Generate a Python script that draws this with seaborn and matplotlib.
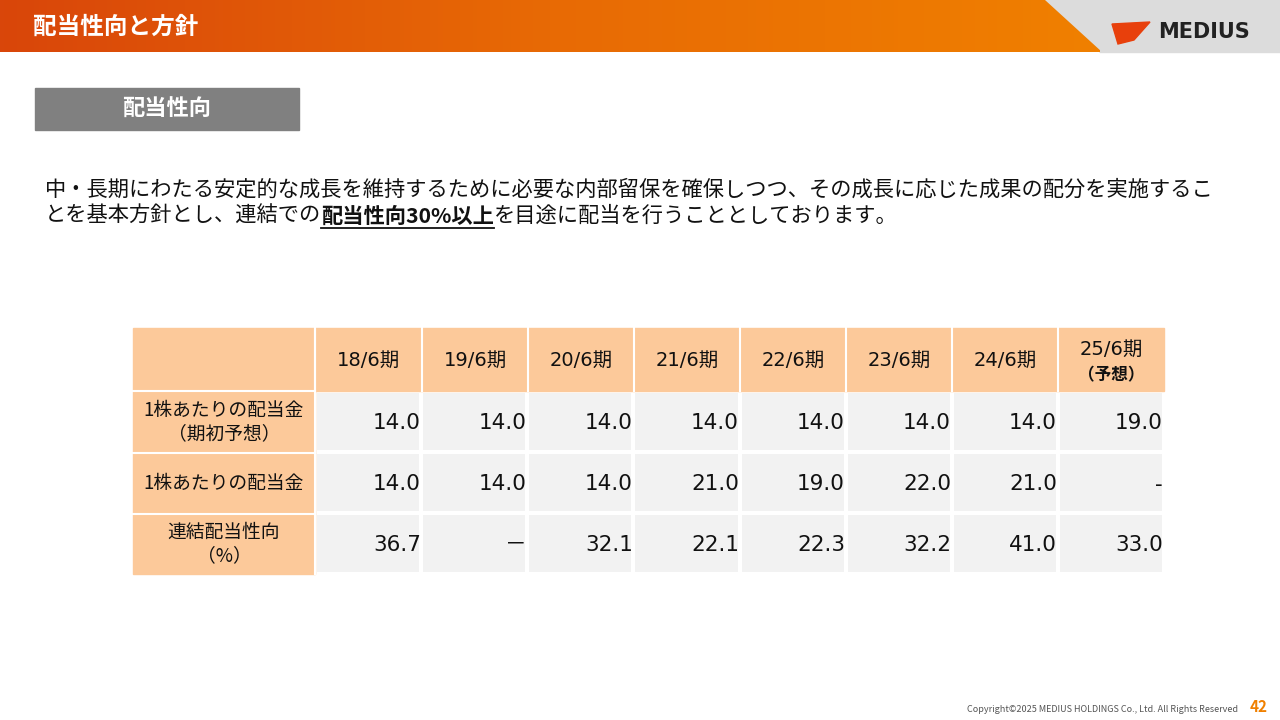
import numpy as np
import pandas as pd
import matplotlib.pyplot as plt
import seaborn as sns
from matplotlib.patches import Rectangle, Polygon
from matplotlib.colors import LinearSegmentedColormap

plt.rcParams["font.family"] = "Noto Sans CJK JP"
MIX = ["DejaVu Sans", "Noto Sans CJK JP"]

# Data
periods = ["18/6期", "19/6期", "20/6期", "21/6期", "22/6期", "23/6期", "24/6期", "25/6期"]
row_labels = ["1株あたりの配当金\n（期初予想）", "1株あたりの配当金", "連結配当性向\n（%）"]
dps_forecast = ["14.0", "14.0", "14.0", "14.0", "14.0", "14.0", "14.0", "19.0"]
dps_actual = ["14.0", "14.0", "14.0", "21.0", "19.0", "22.0", "21.0", "-"]
payout_ratio = ["36.7", "－", "32.1", "22.1", "22.3", "32.2", "41.0", "33.0"]

W, H = 1280, 720
fig = plt.figure(figsize=(12.8, 7.2), dpi=100, facecolor="white")

col_edges = [133, 315, 422, 528, 634, 740, 846, 952, 1058, 1164]
row_edges = [328, 391, 453, 514, 574]
peach = "#fcc99a"

# data cell background via seaborn heatmap
hm_ax = fig.add_axes([col_edges[1] / W, 1 - row_edges[4] / H,
                      (col_edges[-1] - col_edges[1]) / W, (row_edges[4] - row_edges[1]) / H])
sns.heatmap(np.zeros((3, 8)), ax=hm_ax, cmap=LinearSegmentedColormap.from_list("g", ["#f2f2f2", "#f2f2f2"]),
            cbar=False, linewidths=1.5, linecolor="white", xticklabels=False, yticklabels=False)
hm_ax.axis("off")
hm_ax.set_zorder(1)

ax = fig.add_axes([0, 0, 1, 1])
ax.set_zorder(2)
ax.patch.set_alpha(0)
ax.set_xlim(0, W)
ax.set_ylim(H, 0)
ax.axis("off")

# header band
grad = np.linspace(0, 1, 256).reshape(1, -1)
cmap = LinearSegmentedColormap.from_list("hdr", ["#d9460a", "#e86a05", "#f08000"])
ax.add_patch(Polygon([[1040, 0], [W, 0], [W, 52], [1100, 52]], color="#dcdcdc", zorder=1))
im = ax.imshow(grad, cmap=cmap, extent=[0, 1100, 52, 0], aspect="auto", zorder=2)
im.set_clip_path(Polygon([[0, 0], [1045, 0], [1102, 52], [0, 52]], transform=ax.transData))
ax.text(33, 27, "配当性向と方針", color="white", fontsize=17, fontweight="bold", va="center", zorder=3)
ax.add_patch(Polygon([[1112, 24], [1150, 22], [1134, 40], [1118, 44]], color="#e8400c", zorder=3))
ax.text(1158, 32, "MEDIUS", color="#222222", fontsize=15, fontweight="bold", va="center",
        family="DejaVu Sans", zorder=3)

# section label
ax.add_patch(Rectangle((35, 88), 264, 42, color="#808080"))
ax.text(167, 109, "配当性向", color="white", fontsize=16, fontweight="bold", ha="center", va="center")

# policy text
fs = 15.3
ax.text(45, 190, "中・長期にわたる安定的な成長を維持するために必要な内部留保を確保しつつ、その成長に応じた成果の配分を実施するこ",
        fontsize=fs, va="center", color="#111111")
renderer = fig.canvas.get_renderer()
inv = ax.transData.inverted()


def right_edge(t):
    bb = t.get_window_extent(renderer)
    return inv.transform((bb.x1, bb.y0))[0]


t1 = ax.text(45, 216, "とを基本方針とし、連結での", fontsize=fs, va="center", color="#111111")
x1 = right_edge(t1)
t2 = ax.text(x1, 216, "配当性向30%以上", fontsize=fs, va="center", fontweight="bold", color="#111111")
x2 = right_edge(t2)
ax.plot([x1, x2], [228, 228], color="#111111", lw=1.3)
ax.text(x2, 216, "を目途に配当を行うこととしております。", fontsize=fs, va="center", color="#111111")

# table headers
ax.add_patch(Rectangle((col_edges[0], row_edges[0]), col_edges[-1] - col_edges[0],
                       row_edges[1] - row_edges[0], color=peach))
for r in range(3):
    ax.add_patch(Rectangle((col_edges[0], row_edges[r + 1]), col_edges[1] - col_edges[0],
                           row_edges[r + 2] - row_edges[r + 1], color=peach))
for x in col_edges[1:-1]:
    ax.plot([x, x], [row_edges[0], row_edges[1]], color="white", lw=1.5)
for y in row_edges[1:-1]:
    ax.plot([col_edges[0], col_edges[1]], [y, y], color="white", lw=1.5)
ax.plot([col_edges[1], col_edges[1]], [row_edges[0], row_edges[4]], color="white", lw=1.5)

for i, p in enumerate(periods):
    cx = (col_edges[i + 1] + col_edges[i + 2]) / 2
    if i == len(periods) - 1:
        ax.text(cx, 349, p, fontsize=14, ha="center", va="center", color="#111111", family=MIX)
        ax.text(cx, 375, "（予想）", fontsize=12, ha="center", va="center", fontweight="bold", color="#111111")
    else:
        ax.text(cx, 360, p, fontsize=14, ha="center", va="center", color="#111111", family=MIX)

for r, (lab, vals) in enumerate(zip(row_labels, [dps_forecast, dps_actual, payout_ratio])):
    cy = (row_edges[r + 1] + row_edges[r + 2]) / 2
    ax.text((col_edges[0] + col_edges[1]) / 2, cy, lab, fontsize=13.5, ha="center", va="center",
            color="#111111", linespacing=1.2, zorder=5)
    for i, v in enumerate(vals):
        ax.text(col_edges[i + 2] - 1, cy + 1, v, fontsize=15.5, ha="right", va="center",
                color="#111111", zorder=5, family=MIX)

# footer
ax.text(1238, 710, "Copyright©2025 MEDIUS HOLDINGS Co., Ltd. All Rights Reserved", fontsize=6.5,
        ha="right", va="center", color="#555555")
ax.text(1250, 707, "42", fontsize=11, fontweight="bold", color="#f08000", va="center")

fig.savefig("out.png", dpi=100, facecolor="white")
